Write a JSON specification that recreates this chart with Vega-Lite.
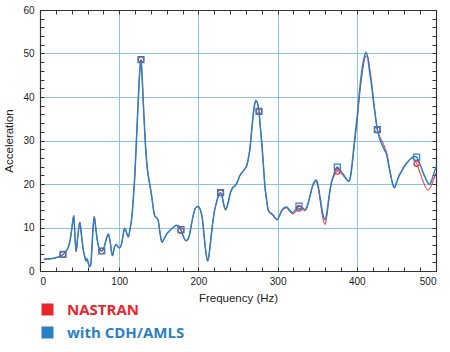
{
  "$schema": "https://vega.github.io/schema/vega-lite/v6.json",
  "width": 396,
  "height": 261,
  "autosize": {"type": "none"},
  "padding": {"left": 40, "top": 10, "right": 14, "bottom": 81},
  "background": "white",
  "config": {
    "font": "Liberation Sans",
    "view": {"stroke": null},
    "axis": {
      "labelFontSize": 10,
      "labelColor": "#222",
      "titleFontSize": 11.5,
      "titleFontWeight": "normal",
      "titleColor": "#222",
      "domainColor": "#333",
      "domainWidth": 1.2,
      "tickColor": "#333",
      "tickWidth": 1,
      "gridColor": "#8fc3e6",
      "gridWidth": 1
    }
  },
  "datasets": {
    "blue": [
      {"f":5,"a":2.7},{"f":10,"a":2.75},{"f":15,"a":2.85},{"f":20,"a":3.05},{"f":25,"a":3.35},{"f":29,"a":3.8},{"f":33,"a":4.6},{"f":36,"a":5.6},{"f":38,"a":7.0},{"f":40,"a":9.5},{"f":42.7,"a":12.7},{"f":44,"a":8.5},{"f":45.6,"a":4.5},{"f":47.5,"a":7.5},{"f":50.3,"a":11.2},{"f":52.5,"a":8},{"f":54.5,"a":5},{"f":56.5,"a":3.3},{"f":58,"a":2.3},{"f":59.5,"a":2.8},{"f":61,"a":1.8},{"f":62.5,"a":1.0},{"f":64,"a":1.4},{"f":65.5,"a":5},{"f":67,"a":10},{"f":68.5,"a":12.5},{"f":70,"a":10.5},{"f":72,"a":7.5},{"f":74.5,"a":5.3},{"f":78,"a":4.6},{"f":81,"a":5.5},{"f":83.5,"a":7.2},{"f":86.3,"a":8.5},{"f":88.5,"a":6.8},{"f":91.5,"a":3.5},{"f":94,"a":5.5},{"f":96.5,"a":6.1},{"f":98.5,"a":5.5},{"f":100.5,"a":5.3},{"f":103,"a":6.3},{"f":105,"a":8.3},{"f":107,"a":9.8},{"f":109,"a":9},{"f":111.5,"a":7.8},{"f":113.5,"a":9.5},{"f":116,"a":12.5},{"f":118,"a":17},{"f":120,"a":23},{"f":122,"a":31},{"f":124,"a":39},{"f":126,"a":46},{"f":127.5,"a":48.6},{"f":129,"a":44.5},{"f":131,"a":36.5},{"f":133,"a":29.5},{"f":135,"a":24.5},{"f":137,"a":21.5},{"f":139,"a":19.5},{"f":141,"a":17.2},{"f":143,"a":14.5},{"f":145,"a":12.6},{"f":147,"a":12.3},{"f":149,"a":11.8},{"f":151.5,"a":8.8},{"f":154,"a":6.6},{"f":157,"a":7.5},{"f":160,"a":8.5},{"f":164,"a":9.3},{"f":168,"a":10},{"f":172,"a":10.5},{"f":175,"a":10.4},{"f":178,"a":9.5},{"f":181,"a":8},{"f":184,"a":7},{"f":186.5,"a":7.2},{"f":189,"a":8.5},{"f":191.5,"a":11},{"f":194,"a":13.2},{"f":197,"a":14.6},{"f":200,"a":14.8},{"f":202.5,"a":14},{"f":205,"a":12},{"f":207,"a":8.5},{"f":209,"a":5},{"f":211.7,"a":2.3},{"f":213.5,"a":3.8},{"f":215.5,"a":7},{"f":217.5,"a":10.2},{"f":220,"a":13.5},{"f":222.5,"a":15.5},{"f":225,"a":17.2},{"f":228,"a":18},{"f":230,"a":17.2},{"f":232,"a":15.3},{"f":234.5,"a":14.1},{"f":236.5,"a":15},{"f":238.5,"a":16.5},{"f":240.5,"a":18},{"f":243.5,"a":19.2},{"f":246.5,"a":19.6},{"f":249.5,"a":20.6},{"f":252,"a":21.8},{"f":255,"a":22.6},{"f":258,"a":23.3},{"f":261,"a":24.2},{"f":263,"a":25.8},{"f":265,"a":28},{"f":267,"a":31.8},{"f":269,"a":35.5},{"f":271,"a":38.3},{"f":272.7,"a":39.2},{"f":274.5,"a":38.6},{"f":276.5,"a":36.7},{"f":278,"a":33.5},{"f":280,"a":29.5},{"f":282,"a":24.5},{"f":284,"a":19.5},{"f":286,"a":16.5},{"f":288,"a":14.2},{"f":290,"a":13.5},{"f":292.5,"a":13.2},{"f":295,"a":12.7},{"f":297.5,"a":12.1},{"f":299.6,"a":11.8},{"f":302,"a":12.6},{"f":305,"a":13.8},{"f":308,"a":14.5},{"f":311.5,"a":14.7},{"f":315,"a":14.0},{"f":319,"a":13.4},{"f":323,"a":14.1},{"f":327,"a":14.9},{"f":331,"a":14.6},{"f":334.6,"a":14.1},{"f":337,"a":14.8},{"f":340,"a":16.6},{"f":344,"a":19.5},{"f":348.5,"a":20.9},{"f":351,"a":19.8},{"f":354,"a":16.5},{"f":357,"a":13.2},{"f":359.8,"a":11.8},{"f":362,"a":13.2},{"f":365,"a":17.2},{"f":368,"a":20.5},{"f":370.5,"a":21.8},{"f":373,"a":23.3},{"f":375.4,"a":23.9},{"f":379,"a":23.1},{"f":383,"a":22.2},{"f":387,"a":21.1},{"f":390,"a":20.6},{"f":392,"a":21.8},{"f":394,"a":24.5},{"f":396,"a":28},{"f":398.6,"a":32.5},{"f":401,"a":36.5},{"f":403,"a":40.5},{"f":405,"a":44},{"f":407,"a":46.8},{"f":409,"a":48.8},{"f":411.6,"a":50.3},{"f":414,"a":48.8},{"f":416,"a":46},{"f":418.8,"a":42.5},{"f":421,"a":39},{"f":423.5,"a":35.5},{"f":425.9,"a":32.5},{"f":428,"a":31},{"f":430,"a":29.8},{"f":432.7,"a":28.7},{"f":435,"a":27.8},{"f":437.7,"a":26.8},{"f":440,"a":24.5},{"f":443,"a":21.8},{"f":445,"a":20.2},{"f":447.4,"a":19.1},{"f":450,"a":20.2},{"f":453,"a":21.7},{"f":456.6,"a":22.9},{"f":460,"a":24},{"f":464,"a":25},{"f":469.3,"a":26},{"f":473,"a":26.3},{"f":475.6,"a":26.2},{"f":478,"a":25.3},{"f":481,"a":24},{"f":484,"a":22.5},{"f":487,"a":21.2},{"f":489.5,"a":20.3},{"f":491.5,"a":19.9},{"f":494,"a":20.6},{"f":497,"a":22.2},{"f":500,"a":24}
    ],
    "red": [
      {"f":5,"a":2.7},{"f":10,"a":2.75},{"f":15,"a":2.85},{"f":20,"a":3.05},{"f":25,"a":3.35},{"f":29,"a":3.8},{"f":33,"a":4.6},{"f":36,"a":5.6},{"f":38,"a":7.0},{"f":40,"a":9.5},{"f":42.7,"a":12.7},{"f":44,"a":8.5},{"f":45.6,"a":4.5},{"f":47.5,"a":7.5},{"f":50.3,"a":11.2},{"f":52.5,"a":8},{"f":54.5,"a":5},{"f":56.5,"a":3.3},{"f":58,"a":2.3},{"f":59.5,"a":2.8},{"f":61,"a":1.8},{"f":62.5,"a":1.0},{"f":64,"a":1.4},{"f":65.5,"a":5},{"f":67,"a":10},{"f":68.5,"a":12.5},{"f":70,"a":10.5},{"f":72,"a":7.5},{"f":74.5,"a":5.3},{"f":78,"a":4.6},{"f":81,"a":5.5},{"f":83.5,"a":7.2},{"f":86.3,"a":8.5},{"f":88.5,"a":6.8},{"f":91.5,"a":3.5},{"f":94,"a":5.5},{"f":96.5,"a":6.1},{"f":98.5,"a":5.5},{"f":100.5,"a":5.3},{"f":103,"a":6.3},{"f":105,"a":8.3},{"f":107,"a":9.8},{"f":109,"a":9},{"f":111.5,"a":7.8},{"f":113.5,"a":9.5},{"f":116,"a":12.5},{"f":118,"a":17},{"f":120,"a":23},{"f":122,"a":31},{"f":124,"a":39},{"f":126,"a":46},{"f":127.5,"a":48.6},{"f":129,"a":44.5},{"f":131,"a":36.5},{"f":133,"a":29.5},{"f":135,"a":24.5},{"f":137,"a":21.5},{"f":139,"a":19.5},{"f":141,"a":17.2},{"f":143,"a":14.5},{"f":145,"a":12.6},{"f":147,"a":12.3},{"f":149,"a":11.8},{"f":151.5,"a":8.8},{"f":154,"a":6.6},{"f":157,"a":7.5},{"f":160,"a":8.5},{"f":164,"a":9.3},{"f":168,"a":10},{"f":172,"a":10.4},{"f":175,"a":10.2},{"f":178,"a":9.3},{"f":181,"a":7.8},{"f":184,"a":6.9},{"f":186.5,"a":7.2},{"f":189,"a":8.5},{"f":191.5,"a":11},{"f":194,"a":13.2},{"f":197,"a":14.6},{"f":200,"a":14.8},{"f":202.5,"a":14},{"f":205,"a":12},{"f":207,"a":8.5},{"f":209,"a":5},{"f":211.7,"a":2.3},{"f":213.5,"a":3.8},{"f":215.5,"a":7},{"f":217.5,"a":10.2},{"f":220,"a":13.5},{"f":222.5,"a":15.5},{"f":225,"a":17.2},{"f":228,"a":18},{"f":230,"a":17.0},{"f":232,"a":15.1},{"f":234.5,"a":14.0},{"f":236.5,"a":15},{"f":238.5,"a":16.5},{"f":240.5,"a":18},{"f":243.5,"a":19.2},{"f":246.5,"a":19.6},{"f":249.5,"a":20.6},{"f":252,"a":21.8},{"f":255,"a":22.6},{"f":258,"a":23.3},{"f":261,"a":24.2},{"f":263,"a":25.8},{"f":265,"a":28},{"f":267,"a":31.8},{"f":269,"a":35.5},{"f":271,"a":38.3},{"f":272.7,"a":39.2},{"f":274.5,"a":38.6},{"f":276.5,"a":36.7},{"f":278,"a":33.5},{"f":280,"a":29.5},{"f":282,"a":24.5},{"f":284,"a":19.5},{"f":286,"a":16.5},{"f":288,"a":14.0},{"f":290,"a":13.3},{"f":292.5,"a":13.0},{"f":295,"a":12.5},{"f":297.5,"a":12.0},{"f":299.6,"a":11.8},{"f":302,"a":12.6},{"f":305,"a":13.6},{"f":308,"a":14.3},{"f":311.5,"a":14.5},{"f":315,"a":13.7},{"f":319,"a":13.1},{"f":323,"a":13.6},{"f":327,"a":14.4},{"f":331,"a":14.2},{"f":334.6,"a":13.8},{"f":337,"a":14.5},{"f":340,"a":16.4},{"f":344,"a":19.3},{"f":348.5,"a":20.6},{"f":351,"a":19.3},{"f":354,"a":15.8},{"f":357,"a":12.2},{"f":359.8,"a":10.7},{"f":362,"a":12.4},{"f":365,"a":16.8},{"f":368,"a":20.2},{"f":370.5,"a":21.5},{"f":373,"a":22.5},{"f":375.4,"a":22.9},{"f":379,"a":22.5},{"f":383,"a":21.9},{"f":387,"a":21.0},{"f":390,"a":20.6},{"f":392,"a":21.5},{"f":394,"a":24},{"f":396,"a":27.3},{"f":398.6,"a":31.5},{"f":401,"a":35.5},{"f":403,"a":39.5},{"f":405,"a":42.8},{"f":407,"a":45.7},{"f":409,"a":47.9},{"f":411.6,"a":49.4},{"f":414,"a":49.2},{"f":416,"a":47},{"f":418.8,"a":43.2},{"f":421,"a":39.5},{"f":423.5,"a":35.7},{"f":425.9,"a":32.5},{"f":428,"a":31.3},{"f":430,"a":30.5},{"f":432.7,"a":29.6},{"f":435,"a":28.5},{"f":437.7,"a":27.2},{"f":440,"a":25},{"f":443,"a":22},{"f":445,"a":20.3},{"f":447.4,"a":19.2},{"f":450,"a":20.3},{"f":453,"a":21.9},{"f":456.6,"a":23.1},{"f":460,"a":24.2},{"f":464,"a":25.1},{"f":469.3,"a":25.9},{"f":473,"a":25.5},{"f":475.6,"a":24.7},{"f":478,"a":23.5},{"f":481,"a":22},{"f":484,"a":20.5},{"f":487,"a":19.2},{"f":489.5,"a":18.6},{"f":491.5,"a":18.8},{"f":494,"a":19.6},{"f":497,"a":21},{"f":500,"a":22.5}
    ],
    "markers": [
      {"f":29,"a":3.8,"s":"NASTRAN"},{"f":78,"a":4.6,"s":"NASTRAN"},{"f":127.5,"a":48.6,"s":"NASTRAN"},{"f":178,"a":9.3,"s":"NASTRAN"},{"f":228,"a":18,"s":"NASTRAN"},{"f":276.5,"a":36.7,"s":"NASTRAN"},{"f":327,"a":14.4,"s":"NASTRAN"},{"f":375.4,"a":22.9,"s":"NASTRAN"},{"f":425.9,"a":32.5,"s":"NASTRAN"},{"f":475.6,"a":24.7,"s":"NASTRAN"},
      {"f":29,"a":3.8,"s":"with CDH/AMLS"},{"f":78,"a":4.6,"s":"with CDH/AMLS"},{"f":127.5,"a":48.6,"s":"with CDH/AMLS"},{"f":178,"a":9.5,"s":"with CDH/AMLS"},{"f":228,"a":18,"s":"with CDH/AMLS"},{"f":276.5,"a":36.7,"s":"with CDH/AMLS"},{"f":327,"a":14.9,"s":"with CDH/AMLS"},{"f":375.4,"a":23.9,"s":"with CDH/AMLS"},{"f":425.9,"a":32.5,"s":"with CDH/AMLS"},{"f":475.6,"a":26.2,"s":"with CDH/AMLS"}
    ]
  },
  "layer": [
    {
      "data": {"name": "red"},
      "transform": [{"calculate": "'NASTRAN'", "as": "s"}],
      "mark": {"type": "line", "interpolate": "monotone", "strokeWidth": 1.0},
      "encoding": {
        "x": {"field": "f", "type": "quantitative", "scale": {"domain": [0, 500], "nice": false},
              "axis": {"orient": "top", "title": null, "labels": false, "grid": false, "domain": true,
                       "values": [0,20,40,60,80,100,120,140,160,180,200,220,240,260,280,300,320,340,360,380,400,420,440,460,480,500],
                       "tickSize": -4}},
        "y": {"field": "a", "type": "quantitative", "scale": {"domain": [0, 60], "nice": false},
              "axis": {"orient": "right", "title": null, "labels": false, "grid": false, "domain": true,
                       "values": [0,2,4,6,8,10,12,14,16,18,20,22,24,26,28,30,32,34,36,38,40,42,44,46,48,50,52,54,56,58,60],
                       "tickSize": -4}},
        "color": {"field": "s", "type": "nominal",
                  "scale": {"domain": ["NASTRAN", "with CDH/AMLS"], "range": ["#e8262d", "#2a80c4"]},
                  "legend": {
                    "title": null,
                    "orient": "none",
                    "legendX": 0,
                    "legendY": 292,
                    "direction": "vertical",
                    "symbolType": "square",
                    "symbolSize": 144,
                    "symbolStrokeWidth": 0,
                    "labelFont": "Open Sans",
                    "labelFontSize": 15,
                    "labelFontWeight": "bold",
                    "labelOffset": 12,
                    "rowPadding": 7,
                    "encode": {
                      "symbols": {"update": {"fill": {"scale": "color", "field": "value"}, "fillOpacity": {"value": 1}, "stroke": {"value": "transparent"}}},
                      "labels": {"update": {"fill": {"scale": "color", "field": "value"}}}
                    }
                  }}
      }
    },
    {
      "data": {"name": "blue"},
      "transform": [{"calculate": "'with CDH/AMLS'", "as": "s"}],
      "mark": {"type": "line", "interpolate": "monotone", "strokeWidth": 1.5},
      "encoding": {
        "x": {"field": "f", "type": "quantitative", "axis": null},
        "y": {"field": "a", "type": "quantitative", "axis": null},
        "color": {"field": "s", "type": "nominal"}
      }
    },
    {
      "data": {"name": "markers"},
      "transform": [{"filter": "datum.s === 'NASTRAN'"}],
      "mark": {"type": "point", "shape": "circle", "filled": false, "strokeWidth": 1.2, "size": 30, "opacity": 1},
      "encoding": {
        "x": {"field": "f", "type": "quantitative",
              "axis": {"orient": "bottom", "title": "Frequency (Hz)", "titlePadding": 6,
                       "values": [0,20,40,60,80,100,120,140,160,180,200,220,240,260,280,300,320,340,360,380,400,420,440,460,480,500],
                       "labelExpr": "datum.value % 100 === 0 ? datum.label : ''",
                       "tickSize": -4, "labelPadding": 9, "labelOverlap": false,
                       "grid": true,
                       "gridOpacity": {"condition": {"test": "datum.value % 100 === 0", "value": 1}, "value": 0}}},
        "y": {"field": "a", "type": "quantitative",
              "axis": {"orient": "left", "title": "Acceleration", "titlePadding": 8,
                       "values": [0,2,4,6,8,10,12,14,16,18,20,22,24,26,28,30,32,34,36,38,40,42,44,46,48,50,52,54,56,58,60],
                       "labelExpr": "datum.value % 10 === 0 ? datum.label : ''",
                       "tickSize": -4, "labelPadding": 10, "labelOverlap": false,
                       "grid": true,
                       "gridOpacity": {"condition": {"test": "datum.value % 10 === 0", "value": 1}, "value": 0}}},
        "color": {"field": "s", "type": "nominal"}
      }
    },
    {
      "data": {"name": "markers"},
      "transform": [{"filter": "datum.s !== 'NASTRAN'"}],
      "mark": {"type": "point", "shape": "square", "filled": false, "strokeWidth": 1.2, "size": 36, "opacity": 1},
      "encoding": {
        "x": {"field": "f", "type": "quantitative", "axis": null},
        "y": {"field": "a", "type": "quantitative", "axis": null},
        "color": {"field": "s", "type": "nominal"}
      }
    }
  ],
  "resolve": {"axis": {"x": "independent", "y": "independent"}}
}
